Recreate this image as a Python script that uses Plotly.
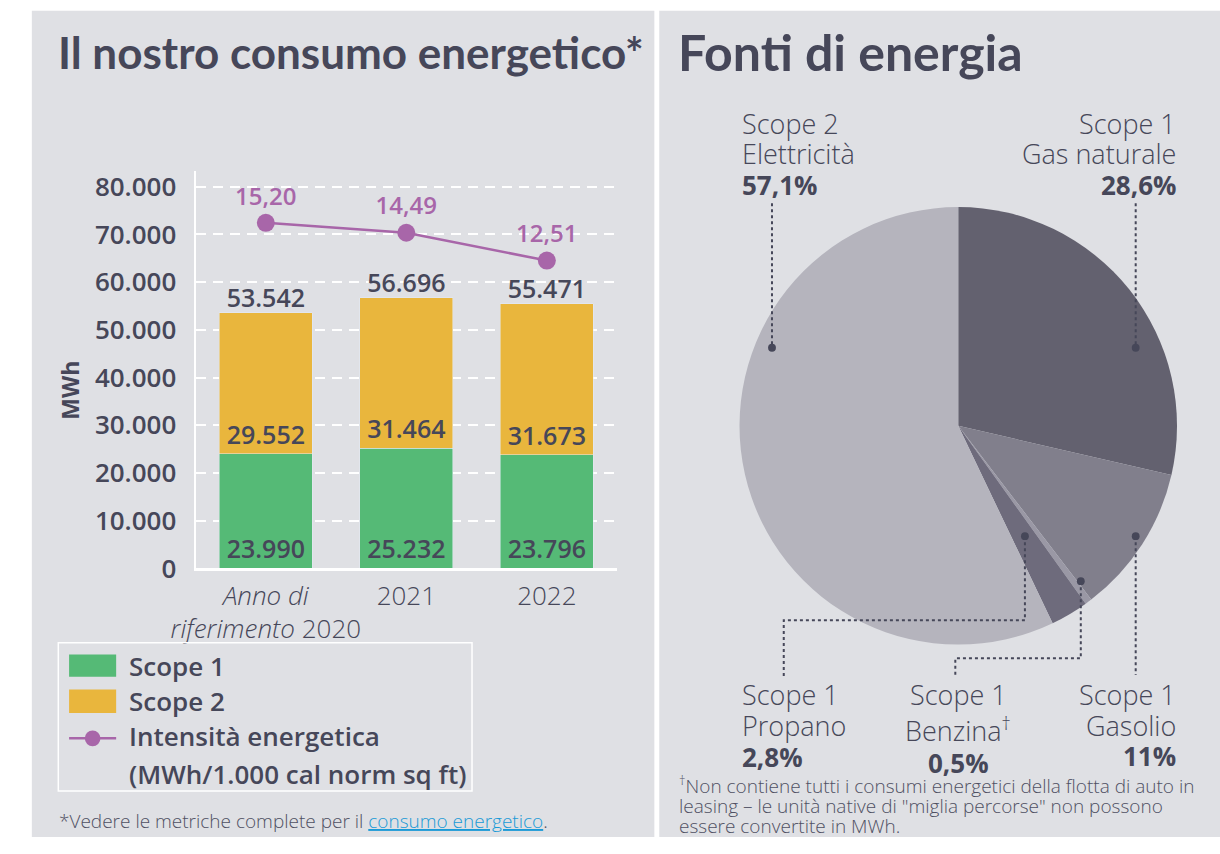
import plotly.graph_objects as go

W, H = 1220, 854

# Energy consumption (MWh) by year
years = ["2020", "2021", "2022"]
year_labels = ["<i>Anno di</i><br><i>riferimento</i> 2020", "2021", "2022"]
scope1 = [23990, 25232, 23796]
scope2 = [29552, 31464, 31673]
totals = [53542, 56696, 55471]
intensity = [15.20, 14.49, 12.51]
y_ticks = [0, 10000, 20000, 30000, 40000, 50000, 60000, 70000, 80000]

# Energy sources share (%)
src_scope = ["Scope 1", "Scope 1", "Scope 1", "Scope 1", "Scope 2"]
src_names = ["Gas naturale", "Gasolio", "Benzina<sup>†</sup>", "Propano", "Elettricità"]
src_values = [28.6, 11, 0.5, 2.8, 57.1]
src_colors = ["#63616f", "#817f8c", "#9a98a5", "#6e6b7c", "#b5b4bd"]

GREEN = "#55ba76"
YELLOW = "#e9b63d"
PURPLE = "#a866a9"
INK = "#464759"
PANEL = "#dfe0e4"
FONT = "Open Sans"
TITLE_FONT = "Lato"


def px(x):
    return x / W


def py(y):
    return 1 - y / H


fig = go.Figure()

value_font = dict(family=FONT, size=25, color=INK, weight=600)

fig.add_trace(go.Bar(
    x=years, y=scope1, marker_color=GREEN, width=0.66,
    texttemplate="%{y:,}", textposition="inside", insidetextanchor="start",
    textangle=0, constraintext="none", textfont=value_font,
    hoverinfo="skip", showlegend=False,
))
fig.add_trace(go.Bar(
    x=years, y=scope2, marker_color=YELLOW, width=0.66,
    texttemplate="%{y:,}", textposition="inside", insidetextanchor="start",
    textangle=0, constraintext="none", textfont=value_font,
    hoverinfo="skip", showlegend=False,
))
fig.add_trace(go.Scatter(
    x=years, y=totals, mode="text", texttemplate="%{y:,}",
    textposition="top center", textfont=value_font,
    hoverinfo="skip", showlegend=False,
))
fig.add_trace(go.Scatter(
    x=years, y=intensity, yaxis="y2", mode="lines+markers+text",
    line=dict(color=PURPLE, width=2.5),
    marker=dict(color=PURPLE, size=18),
    texttemplate="%{y:.2f}", textposition="top center",
    textfont=dict(family=FONT, size=24, color=PURPLE, weight=600),
    hoverinfo="skip", showlegend=False, cliponaxis=False,
))

fig.add_trace(go.Pie(
    values=src_values, labels=src_names, sort=False, direction="clockwise",
    rotation=0, marker=dict(colors=src_colors, line=dict(width=0)),
    textinfo="none", hoverinfo="skip", showlegend=False,
    domain=dict(x=[px(953 - 224), px(953 + 224)], y=[py(433 + 224), py(433 - 224)]),
))

shapes = [
    dict(type="rect", xref="paper", yref="paper", x0=px(8), x1=px(643), y0=0, y1=py(8),
         fillcolor=PANEL, line_width=0, layer="below"),
    dict(type="rect", xref="paper", yref="paper", x0=px(648), x1=1, y0=0, y1=py(8),
         fillcolor=PANEL, line_width=0, layer="below"),
    # legend frame and swatches
    dict(type="rect", xref="paper", yref="paper", x0=px(35), x1=px(457), y0=py(807), y1=py(655),
         fillcolor="rgba(0,0,0,0)", line=dict(color="white", width=1.5)),
    dict(type="rect", xref="paper", yref="paper", x0=px(46), x1=px(94), y0=py(690), y1=py(667),
         fillcolor=GREEN, line_width=0),
    dict(type="rect", xref="paper", yref="paper", x0=px(46), x1=px(94), y0=py(727), y1=py(703),
         fillcolor=YELLOW, line_width=0),
    dict(type="line", xref="paper", yref="paper", x0=px(46), x1=px(94), y0=py(753), y1=py(753),
         line=dict(color=PURPLE, width=2.5)),
    dict(type="circle", xref="paper", yref="paper", x0=px(62), x1=px(78), y0=py(761), y1=py(745),
         fillcolor=PURPLE, line_width=0),
]

# dotted leader lines from the pie slices to their labels
leaders = [
    [(763, 205), (763, 353)],
    [(1134, 205), (1134, 353)],
    [(1134, 546), (1134, 688)],
    [(1078, 592), (1078, 671), (950, 671), (950, 690)],
    [(1021, 546), (1021, 632), (775, 632), (775, 690)],
]
dots = [(763, 353), (1134, 353), (1134, 546), (1078, 592), (1021, 546)]
for pts in leaders:
    path = "M " + " L ".join(f"{px(x)},{py(y)}" for x, y in pts)
    shapes.append(dict(type="path", xref="paper", yref="paper", path=path,
                       line=dict(color=INK, width=2, dash="dot")))
for x, y in dots:
    shapes.append(dict(type="circle", xref="paper", yref="paper",
                       x0=px(x - 4), x1=px(x + 4), y0=py(y + 4), y1=py(y - 4),
                       fillcolor=INK, line_width=0))


def pct(v):
    return f"{v:g}".replace(".", ",") + "%"


annotations = []


def text_at(text, x, y, anchor="left", size=24, weight=300, color=INK, family=FONT, angle=0):
    annotations.append(dict(
        text=text, x=px(x), y=py(y), xanchor=anchor, yanchor="middle", align=anchor,
        textangle=angle, xref="paper", yref="paper", showarrow=False,
        font=dict(family=family, size=size, color=color, weight=weight),
    ))


# panel titles
text_at("Il nostro consumo energetico*", 33, 50, size=44, weight=700, family=TITLE_FONT)
text_at("Fonti di energia", 665, 50, size=50, weight=700, family=TITLE_FONT)

# axis title
text_at("MWh", 47, 397, anchor="center", size=23, weight=700, angle=-90)

# legend labels
text_at("Scope 1", 105, 679, size=26, weight=600)
text_at("Scope 2", 105, 715, size=26, weight=600)
text_at("Intensità energetica", 105, 751, size=26, weight=600)
text_at("(MWh/1.000 cal norm sq ft)", 105, 789, size=26, weight=600)

# footnotes
text_at("*Vedere le metriche complete per il "
        "<span style='color:#1a9ad6'><u>consumo energetico</u></span>.",
        34, 838, size=19, weight=300, color="#4f5063")
foot = ["<sup>†</sup>Non contiene tutti i consumi energetici della flotta di auto in",
        "leasing – le unità native di \"miglia percorse\" non possono",
        "essere convertite in MWh."]
for line, y in zip(foot, [801, 822, 843]):
    text_at(line, 666, y, size=19, weight=300, color="#4f5063")

# slice labels: (slice index, x, line centres, anchor)
label_pos = [
    (4, 730, [123, 154, 186], "left"),
    (0, 1177, [123, 154, 186], "right"),
    (3, 730, [708, 740, 772], "left"),
    (2, 953, [708, 744, 778], "center"),
    (1, 1177, [708, 740, 771], "right"),
]
for i, x, ys, anchor in label_pos:
    text_at(src_scope[i], x, ys[0], anchor=anchor, size=27, weight=300)
    text_at(src_names[i], x, ys[1], anchor=anchor, size=27, weight=300)
    text_at(pct(src_values[i]), x, ys[2], anchor=anchor, size=26, weight=700)

fig.update_layout(
    width=W, height=H, margin=dict(l=0, r=0, t=0, b=0),
    paper_bgcolor="white", plot_bgcolor="rgba(0,0,0,0)",
    separators=",.", barmode="stack",
    shapes=shapes, annotations=annotations,
    xaxis=dict(domain=[px(175), px(605)], type="category", range=[-0.5, 2.5],
               tickvals=years, ticktext=year_labels,
               showline=True, linecolor="white", linewidth=3,
               ticks="outside", ticklen=2, tickcolor="rgba(0,0,0,0)",
               tickfont=dict(family=FONT, size=26, color=INK, weight=300),
               showgrid=False, zeroline=False, fixedrange=True),
    yaxis=dict(domain=[py(579), py(172)], range=[0, 83300], tickvals=y_ticks,
               tickformat=",", showline=True, linecolor="white", linewidth=2,
               showgrid=True, gridcolor="white", gridwidth=2, griddash="10px,7px",
               ticks="outside", ticklen=12, tickcolor="rgba(0,0,0,0)",
               tickfont=dict(family=FONT, size=26, color=INK, weight=600),
               zeroline=False, fixedrange=True),
    yaxis2=dict(domain=[py(579), py(172)], overlaying="y", range=[-9.42, 18.89],
                visible=False, fixedrange=True),
)

fig.write_html("out.html")
